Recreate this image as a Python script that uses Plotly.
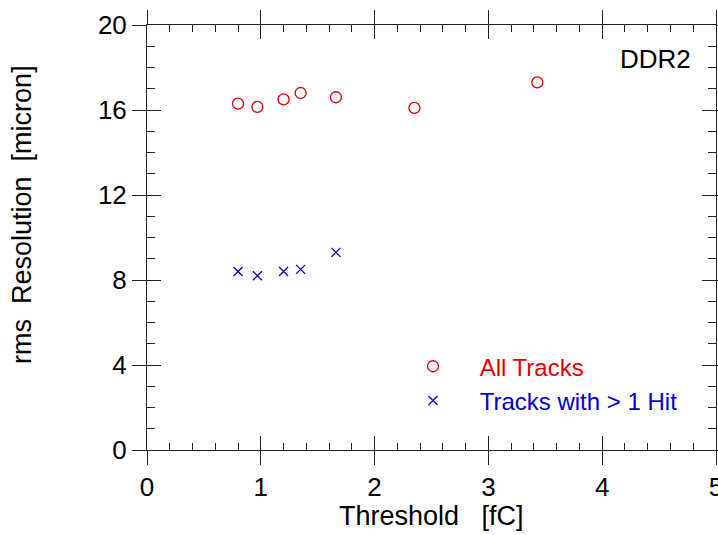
import plotly.graph_objects as go

# Data
threshold_all = [0.80, 0.97, 1.20, 1.35, 1.66, 2.35, 3.43]
resolution_all = [16.3, 16.15, 16.5, 16.8, 16.6, 16.1, 17.3]
threshold_multi = [0.80, 0.97, 1.20, 1.35, 1.66]
resolution_multi = [8.4, 8.2, 8.4, 8.5, 9.3]

x_ticks = [0, 1, 2, 3, 4, 5]
y_ticks = [0, 4, 8, 12, 16, 20]

RED = "#dd0000"
BLUE = "#0000cc"
FONT = "Liberation Sans, Arial, sans-serif"
AXC = "#222222"
NB = "\u00a0"

fig = go.Figure()
fig.add_trace(go.Scatter(
    x=threshold_all, y=resolution_all, mode="markers",
    name=NB * 4 + f"<span style='color:{RED}'>All Tracks</span>",
    legendgroup="a",
    marker=dict(symbol="circle-open", size=11, color=RED, line=dict(width=1.3, color=RED)),
))
fig.add_trace(go.Scatter(
    x=threshold_multi, y=resolution_multi, mode="markers",
    name=NB * 4 + f"<span style='color:{BLUE}'>Tracks with &gt; 1 Hit</span>",
    legendgroup="b",
    marker=dict(symbol="x-thin-open", size=9, color=BLUE, line=dict(width=1.3, color=BLUE)),
))
# empty trace to bind the overlay axes
fig.add_trace(go.Scatter(x=[], y=[], xaxis="x2", yaxis="y2", showlegend=False))

common_x = dict(range=[0, 5], showgrid=False, zeroline=False, tickvals=x_ticks,
                showline=True, linecolor=AXC, linewidth=1, tickcolor=AXC, tickwidth=1,
                automargin=False)
common_y = dict(range=[0, 20], showgrid=False, zeroline=False, tickvals=y_ticks,
                showline=True, linecolor=AXC, linewidth=1, tickcolor=AXC, tickwidth=1,
                automargin=False)

fig.update_layout(
    width=718, height=535,
    margin=dict(l=147, r=2, t=25, b=85),
    plot_bgcolor="white", paper_bgcolor="white",
    font=dict(family=FONT, size=25, color="black"),
    xaxis=dict(**common_x, ticks="outside", ticklen=14, mirror="ticks",
               showticklabels=True, ticktext=[str(v) for v in x_ticks],
               ticklabeloverflow="allow", tickfont=dict(size=26)),
    yaxis=dict(**common_y, ticks="outside", ticklen=14, mirror="ticks",
               showticklabels=True, ticktext=[str(v) for v in y_ticks],
               ticklabeloverflow="allow", tickfont=dict(size=26)),
    xaxis2=dict(**common_x, overlaying="x", anchor="y2", side="bottom",
                ticks="inside", ticklen=14, mirror="ticks", showticklabels=False,
                minor=dict(ticks="inside", ticklen=7, dtick=0.2, tick0=0,
                           tickcolor=AXC, tickwidth=1)),
    yaxis2=dict(**common_y, overlaying="y", anchor="x2", side="left",
                ticks="inside", ticklen=14, mirror="ticks", showticklabels=False,
                minor=dict(ticks="inside", ticklen=8, dtick=1, tick0=0,
                           tickcolor=AXC, tickwidth=1)),
    showlegend=True,
    legend=dict(x=0.4675, y=0.249, xanchor="left", yanchor="top",
                bgcolor="rgba(0,0,0,0)", font=dict(size=24),
                tracegroupgap=0, itemsizing="trace"),
    annotations=[
        dict(text="Threshold" + NB * 3 + "[fC]", xref="paper", yref="paper", x=0.5, y=-0.155,
             xanchor="center", yanchor="middle", showarrow=False, font=dict(size=27)),
        dict(text="rms" + NB * 2 + "Resolution" + NB * 2 + "[micron]", xref="paper", yref="paper",
             x=-0.22, y=0.555, xanchor="center", yanchor="middle", textangle=-90,
             showarrow=False, font=dict(size=27)),
        dict(text="DDR2", xref="paper", yref="paper", x=0.9596, y=0.92,
             xanchor="right", yanchor="middle", showarrow=False, font=dict(size=26)),
    ],
)

fig.write_html("out.html")
